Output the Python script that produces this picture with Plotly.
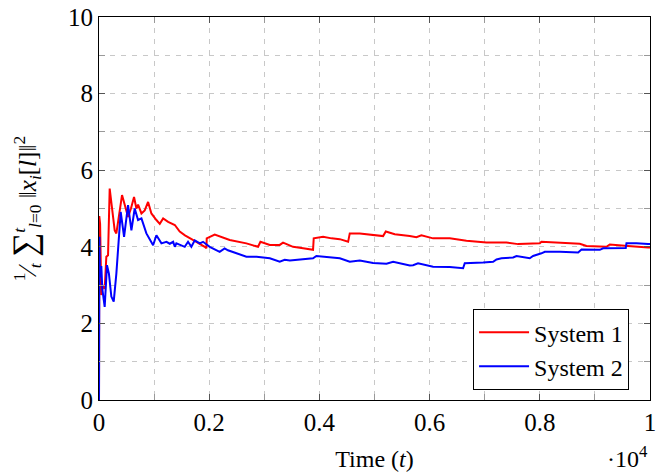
import plotly.graph_objects as go

# ---- data (time t, running average) ----
sys1_t = [0, 5, 20, 42, 70, 103, 133, 164, 194, 240, 285, 315, 350, 418, 467, 527, 580, 636,
          679, 709, 770, 830, 891, 951, 1042, 1103, 1164, 1254, 1376, 1465, 1560, 1646, 1767,
          1919, 1950, 1955, 2100, 2372, 2675, 2887, 2930, 3100, 3280, 3340, 3522, 3704, 3885,
          3897, 4067, 4220, 4370, 4521, 4551, 4733, 4975, 5156, 5205, 5368, 5640, 5760, 5851,
          6063, 6366, 6669, 7032, 7395, 7607, 7819, 8000, 8030, 8423, 8726, 8847, 9210, 9270,
          9512, 9600, 9965, 10000]
sys1_v = [0.0, 4.8, 4.6, 2.74, 3.0, 2.9, 3.74, 3.78, 5.52, 4.9, 4.43, 4.35, 4.7, 5.35, 5.1, 4.78,
          5.0, 5.3, 5.0, 5.1, 4.87, 4.95, 5.17, 4.87, 4.7, 4.6, 4.74, 4.65, 4.57, 4.4, 4.3, 4.22,
          4.13, 4.0, 3.96, 4.22, 4.32, 4.18, 4.09, 4.0, 4.13, 4.05, 4.05, 4.11, 4.0, 3.96, 3.92,
          4.22, 4.26, 4.22, 4.2, 4.13, 4.35, 4.35, 4.32, 4.28, 4.4, 4.33, 4.28, 4.25, 4.3, 4.22,
          4.22, 4.16, 4.11, 4.11, 4.07, 4.09, 4.09, 4.13, 4.11, 4.08, 4.02, 4.0, 4.06, 4.04, 4.02,
          3.98, 3.98]

sys2_t = [0, 8, 15, 25, 42, 60, 103, 145, 180, 224, 267, 315, 358, 394, 455, 527, 588, 648, 709,
          770, 860, 982, 1042, 1133, 1224, 1285, 1346, 1376, 1404, 1556, 1616, 1676, 1738, 1830,
          1888, 2009, 2190, 2280, 2340, 2493, 2675, 2860, 3100, 3280, 3370, 3464, 3643, 3885,
          3945, 4130, 4370, 4551, 4733, 4975, 5217, 5338, 5640, 5700, 5790, 6063, 6366, 6608,
          6638, 6971, 7153, 7214, 7305, 7516, 7577, 7818, 7878, 8030, 8090, 8363, 8696, 8757,
          9089, 9150, 9452, 9560, 9573, 9755, 9965, 10000]
sys2_v = [0.0, 4.26, 3.48, 3.2, 3.5, 2.9, 2.43, 3.52, 3.3, 2.7, 2.57, 3.3, 4.26, 4.91, 4.26, 5.09,
          4.43, 5.0, 4.7, 4.74, 4.35, 4.04, 4.3, 4.09, 4.13, 4.08, 4.13, 4.0, 4.09, 4.0, 4.13, 4.0,
          4.17, 4.09, 4.13, 4.0, 3.87, 3.96, 3.91, 3.83, 3.74, 3.74, 3.70, 3.61, 3.66, 3.64, 3.66,
          3.70, 3.76, 3.73, 3.70, 3.61, 3.64, 3.58, 3.56, 3.61, 3.51, 3.52, 3.57, 3.48, 3.47, 3.44,
          3.57, 3.59, 3.61, 3.67, 3.70, 3.72, 3.76, 3.70, 3.76, 3.83, 3.87, 3.87, 3.85, 3.93, 3.92,
          3.96, 3.96, 3.97, 4.09, 4.09, 4.07, 4.07]

series_names = ["System 1", "System 2"]
x_tickvals = [0, 2000, 4000, 6000, 8000, 10000]
x_ticktext = ["0", "0.2", "0.4", "0.6", "0.8", "1"]
y_tickvals = [0, 2, 4, 6, 8, 10]

FONT = "Liberation Serif, DejaVu Serif, serif"

fig = go.Figure()
fig.add_trace(go.Scatter(x=sys1_t, y=sys1_v, mode="lines", name=series_names[0],
                         line=dict(color="#ff0000", width=2)))
fig.add_trace(go.Scatter(x=sys2_t, y=sys2_v, mode="lines", name=series_names[1],
                         line=dict(color="#0000ff", width=2)))

axis_common = dict(
    showline=True, linecolor="black", linewidth=1, mirror="allticks",
    ticks="inside", ticklen=6, tickcolor="#555555", tickwidth=1,
    showgrid=True, gridcolor="#c8c8c8", griddash="5px,6px", gridwidth=1,
    zeroline=False, automargin=False,
    tickfont=dict(family=FONT, size=25, color="black"),
)

fig.update_xaxes(
    range=[0, 10000], tickvals=x_tickvals, ticktext=x_ticktext,
    minor=dict(dtick=1000, tick0=0, ticks="inside", ticklen=6, tickcolor="#999999",
               showgrid=True, gridcolor="#c8c8c8", griddash="5px,6px"),
    title=dict(text="Time (<i>t</i>)", font=dict(family=FONT, size=24, color="black"), standoff=16),
    **axis_common,
)
fig.update_yaxes(
    range=[0, 10], tickvals=y_tickvals,
    minor=dict(dtick=1, tick0=0, ticks="inside", ticklen=6, tickcolor="#999999",
               showgrid=True, gridcolor="#c8c8c8", griddash="5px,6px"),
    title=dict(text="<sup>1</sup>⁄<sub><i>t</i></sub> <span style='font-size:34px'>∑</span>"
                    "<sup><i>t</i></sup><sub><i>l</i>=0</sub> ‖<i>x<sub>i</sub></i>[<i>l</i>]‖<sup>2</sup>",
               font=dict(family=FONT, size=25, color="black"), standoff=24),
    **axis_common,
)

fig.add_annotation(x=1.0, y=-0.15, xref="paper", yref="paper", xanchor="right", yanchor="middle",
                   text="·10<sup>4</sup>", showarrow=False,
                   font=dict(family=FONT, size=24, color="black"))

fig.update_layout(
    width=662, height=472,
    margin=dict(l=99, r=12, t=17, b=72),
    plot_bgcolor="white", paper_bgcolor="white",
    font=dict(family=FONT, color="black"),
    legend=dict(x=0.962, y=0.026, xanchor="right", yanchor="bottom",
                bgcolor="white", bordercolor="black", borderwidth=1,
                font=dict(family=FONT, size=24, color="black"),
                itemwidth=50, tracegroupgap=0),
    showlegend=True,
)

fig.write_html("out.html", config={"displayModeBar": False},
               post_script="document.body.style.margin='0';")
